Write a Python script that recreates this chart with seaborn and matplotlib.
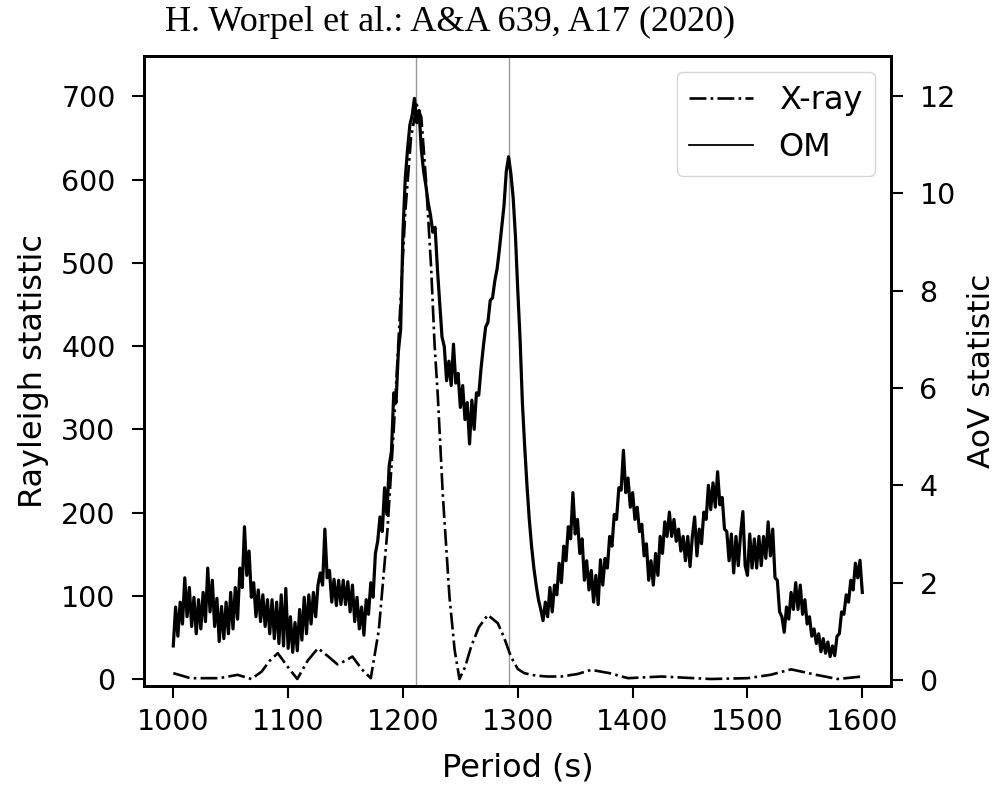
import numpy as np
import pandas as pd
import matplotlib
matplotlib.use("Agg")
import matplotlib.pyplot as plt
import seaborn as sns

# ---------------- data ----------------
title_text = "H. Worpel et al.: A&A 639, A17 (2020)"
x_ticks = [1000, 1100, 1200, 1300, 1400, 1500, 1600]
left_ticks = [0, 100, 200, 300, 400, 500, 600, 700]
right_ticks = [0, 2, 4, 6, 8, 10, 12]
marker_periods = [1211.0, 1292.5]

xray_period = [1000, 1015, 1040, 1056, 1068, 1077, 1084, 1091, 1100, 1108, 1117, 1126,
               1135, 1143, 1150, 1156, 1164, 1172, 1179, 1186.5, 1192, 1197, 1202, 1207,
               1212, 1216, 1220, 1224.5, 1227.5, 1230.4, 1234.8, 1240.5, 1245, 1249.2,
               1254, 1259.4, 1266, 1273.9, 1282.6, 1288, 1294, 1300, 1305.7, 1316, 1326,
               1338, 1352, 1364, 1380, 1396, 1425, 1468, 1500, 1520, 1538, 1560, 1578.5,
               1600]
xray_rayleigh = [7, 1, 1, 5, 0, 9, 22, 31, 14, 0, 22, 37,
                 27, 17.6, 22, 27, 12, 1, 59, 179, 300, 430, 560, 650,
                 690, 675, 600, 495, 403, 339, 219, 99, 35, 0,
                 14, 39, 62, 77, 67, 50, 27, 12, 7, 4, 3,
                 3, 6, 11, 7, 1, 3, 0, 1, 5, 11.6, 5, 0,
                 3]

om_period = np.arange(1000, 1601, 2)
om_aov = [
    0.70, 1.50, 0.90, 1.60, 1.15, 2.10, 1.30, 1.90, 1.10, 1.70,   # 1000
    0.95, 1.65, 1.05, 1.80, 1.20, 2.30, 1.40, 2.05, 1.10, 1.68,   # 1020
    0.79, 1.51, 0.85, 1.60, 0.95, 1.80, 1.05, 1.90, 1.25, 2.30,   # 1040
    1.90, 3.15, 2.15, 2.65, 1.70, 2.00, 1.30, 1.85, 1.20, 1.75,   # 1060
    1.10, 1.65, 0.95, 1.65, 0.85, 1.60, 0.75, 1.75, 0.70, 1.88,   # 1080
    0.65, 1.30, 0.57, 1.18, 0.60, 1.45, 0.82, 1.70, 0.95, 1.75,   # 1100
    1.15, 1.80, 1.30, 1.95, 2.20, 1.95, 3.10, 2.10, 2.25, 1.60,   # 1120
    2.07, 1.53, 2.05, 1.55, 2.05, 1.55, 2.02, 1.40, 1.95, 1.20,   # 1140
    1.70, 1.05, 1.50, 0.92, 1.65, 1.35, 2.00, 1.70, 2.60, 2.85,   # 1160
    3.35, 3.05, 3.95, 3.40, 4.40, 4.70, 5.90, 5.70, 6.75, 7.20,   # 1180
    9.20, 10.30, 10.90, 11.40, 11.60, 11.95, 11.45, 11.70, 10.90, 10.45,  # 1200
    10.15, 9.80, 9.55, 9.20, 9.30, 8.45, 7.75, 7.05, 6.85, 6.15,  # 1220
    6.55, 6.05, 6.90, 6.10, 6.30, 5.60, 6.05, 5.35, 5.70, 4.85,   # 1240
    5.75, 5.15, 5.90, 5.85, 6.40, 6.85, 7.25, 7.35, 7.80, 7.85,   # 1260
    8.20, 8.45, 8.85, 9.30, 9.75, 10.45, 10.75, 10.40, 9.90, 9.10,  # 1280
    8.00, 7.00, 5.70, 4.80, 4.00, 3.30, 2.75, 2.30, 1.95, 1.65,   # 1300
    1.45, 1.22, 1.60, 1.30, 1.90, 1.40, 1.95, 1.75, 2.40, 2.00,   # 1320
    2.75, 2.45, 3.15, 2.90, 3.85, 3.00, 3.30, 2.60, 2.90, 2.05,   # 1340
    2.45, 1.85, 2.25, 1.60, 2.15, 1.55, 2.47, 1.95, 2.50, 2.30,   # 1360
    2.95, 2.75, 3.40, 3.30, 3.95, 3.90, 4.72, 3.85, 4.15, 3.55,   # 1380
    3.85, 3.30, 3.55, 3.05, 3.20, 2.55, 2.80, 2.05, 2.45, 1.95,   # 1400
    2.60, 2.15, 2.95, 2.60, 3.25, 2.95, 3.45, 2.95, 3.30, 2.85,   # 1420
    3.10, 2.65, 2.95, 2.45, 2.95, 2.33, 2.95, 3.35, 2.55, 3.10,   # 1440
    2.80, 3.45, 3.30, 4.00, 3.50, 4.05, 3.55, 4.28, 3.60, 3.75,   # 1460
    3.10, 3.05, 2.45, 3.00, 2.20, 2.95, 2.35, 3.00, 3.46, 2.35,   # 1480
    2.15, 3.00, 2.30, 2.90, 2.30, 2.95, 2.35, 2.95, 2.50, 3.25,   # 1500
    2.55, 3.10, 2.10, 2.05, 1.40, 1.30, 0.98, 1.50, 1.25, 1.80,   # 1520
    1.45, 2.00, 1.45, 1.95, 1.35, 1.65, 1.15, 1.30, 0.90, 1.05,   # 1540
    0.75, 0.95, 0.58, 0.85, 0.55, 0.78, 0.48, 0.70, 0.50, 0.90,   # 1560
    0.95, 1.40, 1.35, 1.75, 1.60, 2.05, 1.85, 2.40, 2.10, 2.46,   # 1580
    1.80,                                                          # 1600
]

# ---------------- figure ----------------
plt.rcParams["font.family"] = ["DejaVu Sans"]
fig = plt.figure(figsize=(10.03, 7.90), dpi=100)
ax = fig.add_axes([144 / 1003, 1 - 686 / 790, (891 - 144) / 1003, (686 - 56) / 790])
ax2 = ax.twinx()

for p in marker_periods:
    ax.axvline(p, color="0.6", lw=1.0, zorder=0.5)

df_x = pd.DataFrame({"period": xray_period, "rayleigh": xray_rayleigh})
df_o = pd.DataFrame({"period": om_period, "aov": om_aov})

sns.lineplot(data=df_x, x="period", y="rayleigh", ax=ax, color="black",
             linestyle="-.", lw=1.9, label="X-ray", legend=False, errorbar=None)
sns.lineplot(data=df_o, x="period", y="aov", ax=ax2, color="black",
             lw=2.3, label="OM", legend=False, errorbar=None)

ax.set_xlim(974.5, 1625)
ax.set_ylim(-8.4, 748.5)
ax2.set_ylim(-0.123, 12.82)
ax.set_xticks(x_ticks)
ax.set_yticks(left_ticks)
ax2.set_yticks(right_ticks)

tick_fs = 20.5
ax.tick_params(axis="x", labelsize=tick_fs, length=8.5, width=1.5, pad=7)
ax.tick_params(axis="y", labelsize=tick_fs, length=8.5, width=1.5, pad=12)
ax2.tick_params(axis="y", labelsize=tick_fs, length=8.5, width=1.5, pad=12)
for a in (ax, ax2):
    for s in a.spines.values():
        s.set_linewidth(2.0)

ax.set_xlabel("Period (s)", fontsize=23, labelpad=12)
ax.set_ylabel("Rayleigh statistic", fontsize=23, labelpad=9)
ax2.set_ylabel("AoV statistic", fontsize=22.5, labelpad=8)

h1, l1 = ax.get_legend_handles_labels()
h2, l2 = ax2.get_legend_handles_labels()
leg = ax2.legend(h1 + h2, l1 + l2, loc="upper right", fontsize=23)
leg_lines = leg.get_lines()
leg_lines[0].set_linewidth(1.9)
leg_lines[1].set_linewidth(1.3)

fig.text(0.449, 0.972, title_text, family="Liberation Serif", fontsize=26,
         ha="center", va="center")

fig.savefig("out.png", dpi=100)
